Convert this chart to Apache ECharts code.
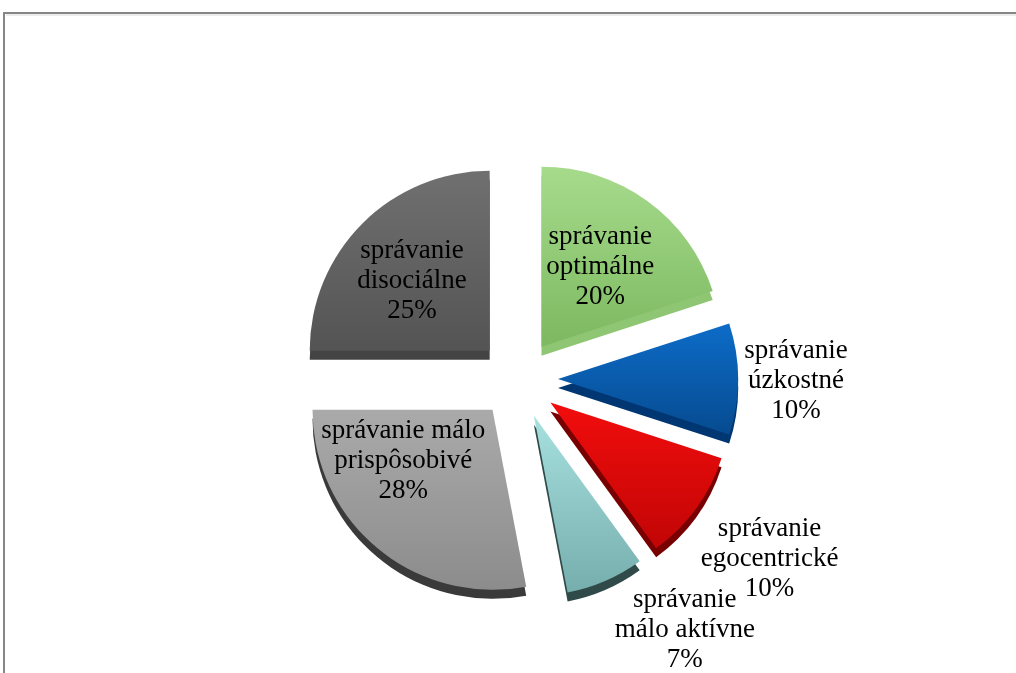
<!DOCTYPE html>
<html>
<head>
<meta charset="utf-8">
<script src="https://cdn.jsdelivr.net/npm/echarts@6/dist/echarts.min.js"></script>
<style>
  html, body { margin: 0; padding: 0; background: #fff; }
  #chart { width: 1016px; height: 673px; }
</style>
</head>
<body>
<div id="chart"></div>
<script>
// slice names (as wrapped in the chart) and their values in %
var categories = [
  "správanie\noptimálne",
  "správanie\núzkostné",
  "správanie\negocentrické",
  "správanie\nmálo aktívne",
  "správanie málo\nprispôsobivé",
  "správanie\ndisociálne"
];
var values = [20, 10, 10, 7, 28, 25];

// face colours (top -> bottom) and the darker side colour of each slice
var faceTop = ["#a6db8c", "#0d6cc8", "#f20d0d", "#a6e0df", "#aaaaaa", "#707070"];
var faceBottom = ["#7db960", "#064b90", "#c20505", "#76aead", "#8c8c8c", "#545454"];
var sideColors = ["#8fc673", "#003672", "#780000", "#2f4a48", "#3a3a3a", "#444444"];

// label nudges from the default "inside" spot
var labelShift = [[4, -4], [145, 2], [144, 102], [114, 129], [-30, -21], [-12, -4]];

var CX = 518, CY = 379, R = 180, DEPTH = 9, EXPLODE = 40;

var myChart = echarts.init(document.getElementById("chart"));

var faceData = categories.map(function (name, i) {
  return {
    name: name,
    value: values[i],
    selected: true,
    itemStyle: {
      color: {
        type: "linear", x: 0, y: 0, x2: 0, y2: 1,
        colorStops: [
          { offset: 0, color: faceTop[i] },
          { offset: 1, color: faceBottom[i] }
        ]
      }
    }
  };
});

var sideData = categories.map(function (name, i) {
  return {
    name: name,
    value: values[i],
    selected: true,
    itemStyle: { color: sideColors[i] }
  };
});

var option = {
  animation: false,
  graphic: [
    {
      type: "rect",
      shape: { x: 4, y: 13, width: 1100, height: 800 },
      style: { fill: "none", stroke: "#868686", lineWidth: 2 },
      silent: true
    },
    {
      type: "line",
      shape: { x1: 6, y1: 15, x2: 1016, y2: 15 },
      style: { stroke: "#d9d9d9", lineWidth: 1 },
      silent: true
    }
  ],
  series: [
    {
      name: "side",
      type: "pie",
      silent: true,
      center: [CX, CY + DEPTH],
      radius: R,
      startAngle: 90,
      clockwise: true,
      selectedMode: "multiple",
      selectedOffset: EXPLODE,
      avoidLabelOverlap: false,
      label: { show: false },
      labelLine: { show: false },
      data: sideData
    },
    {
      name: "face",
      type: "pie",
      silent: true,
      center: [CX, CY],
      radius: R,
      startAngle: 90,
      clockwise: true,
      selectedMode: "multiple",
      selectedOffset: EXPLODE,
      avoidLabelOverlap: false,
      label: {
        show: true,
        position: "inside",
        formatter: "{b}\n{d}%",
        fontFamily: "Liberation Serif",
        fontSize: 27,
        lineHeight: 30,
        color: "#000",
        align: "center"
      },
      labelLine: { show: false },
      labelLayout: function (params) {
        var s = labelShift[params.dataIndex];
        return { dx: s[0], dy: s[1] };
      },
      data: faceData
    }
  ]
};

myChart.setOption(option);
</script>
</body>
</html>
